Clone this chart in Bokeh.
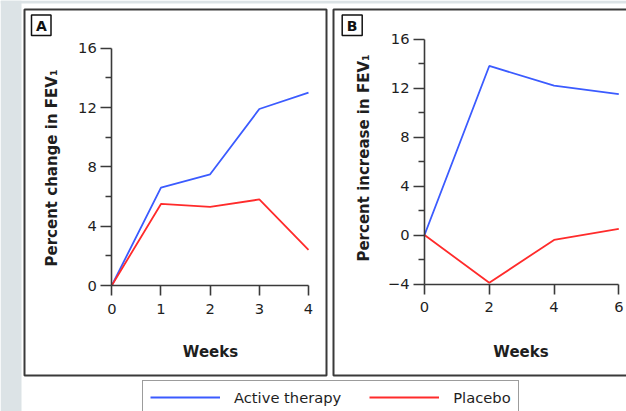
from math import pi
from bokeh.plotting import figure
from bokeh.models import Range1d, LinearAxis, FixedTicker, Legend, LegendItem
from bokeh.core.properties import value
from bokeh.embed import file_html
from bokeh.resources import INLINE

# ---- data ----
weeks_a = [0, 1, 2, 3, 4]
active_a = [0, 6.6, 7.5, 11.9, 13.0]
placebo_a = [0, 5.5, 5.3, 5.8, 2.4]
weeks_b = [0, 2, 4, 6]
active_b = [0, 13.8, 12.2, 11.5]
placebo_b = [0, -3.9, -0.4, 0.5]

xticks_a = [0, 1, 2, 3, 4]
yticks_a = [0, 4, 8, 12, 16]
yminor_a = [2, 6, 10, 14]
xticks_b = [0, 2, 4, 6]
yticks_b = [-4, 0, 4, 8, 12, 16]
yminor_b = [-2, 2, 6, 10, 14]

series_names = ["Active therapy", "Placebo"]
panel_labels = ["A", "B"]
ylabels = ["Percent change in FEV\u2081", "Percent increase in FEV\u2081"]
xlabel = "Weeks"

# ---- styling / layout ----
W, H = 626, 411
BLUE = "#3b5bff"
RED = "#ff2b2b"
DARK = "#3a3a3a"
TXT = "#1e1e1e"
GRAY = "#dce3e6"
FONT = "DejaVu Sans"
FS = "14.7px"


def xrange_for(v0, p0, v1, p1):
    k = (p1 - p0) / (v1 - v0)
    return Range1d(v0 - p0 / k, v0 + (W - p0) / k)


def yrange_for(v0, p0, v1, p1):
    # p measured from top of canvas
    k = (p0 - p1) / (v1 - v0)
    return Range1d(v0 - (H - p0) / k, v0 + p0 / k)


p = figure(width=W, height=H, x_range=Range1d(0, W), y_range=Range1d(H, 0),
           x_axis_type=None, y_axis_type=None, toolbar_location=None,
           output_backend="svg", min_border=0, outline_line_color=None,
           background_fill_color="white", border_fill_color="white")

p.extra_x_ranges = {
    "xa": xrange_for(0, 111.3, 4, 308.0),
    "xb": xrange_for(0, 424.0, 6, 618.3),
}
p.extra_y_ranges = {
    "ya": yrange_for(0, 285.0, 16, 47.7),
    "yb": yrange_for(-4, 283.5, 16, 38.5),
}

# background strips and panel frames
p.quad(left=[0, 0], right=[21, W], top=[0, 0], bottom=[H, 3],
       fill_color=GRAY, line_color=None)
p.quad(left=[24, 333], right=[326, 668], top=[9, 9], bottom=[375, 375],
       fill_color=None, line_color=DARK, line_width=2)
p.quad(left=[31, 341.7], right=[50.5, 361.7], top=[14.5, 14.5], bottom=[35, 35],
       fill_color=None, line_color="#111111", line_width=1.5)
p.text(x=[40.8, 351.7], y=[25, 25], text=panel_labels, text_font=value(FONT),
       text_font_style="bold", text_font_size="14px", text_color="#111111",
       text_align="center", text_baseline="middle")

# axis titles
p.text(x=[51.5, 363], y=[167.5, 157.5], text=ylabels, angle=pi / 2,
       text_font=value(FONT), text_font_style="bold", text_font_size="15px",
       text_color=TXT, text_align="center", text_baseline="alphabetic")
p.text(x=[210, 520.5], y=[351, 351], text=[xlabel, xlabel],
       text_font=value(FONT), text_font_style="bold", text_font_size="15px",
       text_color=TXT, text_align="center", text_baseline="alphabetic")


def style_axis(ax, tick_out, minor_out):
    ax.axis_line_color = DARK
    ax.axis_line_width = 1.6
    ax.major_tick_line_color = DARK
    ax.major_tick_line_width = 1.6
    ax.minor_tick_line_color = DARK
    ax.minor_tick_line_width = 1.6
    ax.major_tick_in = 0
    ax.major_tick_out = tick_out
    ax.minor_tick_in = 0
    ax.minor_tick_out = minor_out
    ax.major_label_text_font = FONT
    ax.major_label_text_font_size = FS
    ax.major_label_text_color = TXT


def add_panel(xr, yr, xt, yt, ym):
    xa = LinearAxis(x_range_name=xr, y_range_name=yr, fixed_location=yt[0],
                    bounds=(xt[0], xt[-1]), ticker=FixedTicker(ticks=xt))
    style_axis(xa, 10, 0)
    xa.major_label_standoff = 8
    p.add_layout(xa, "below")
    ya = LinearAxis(x_range_name=xr, y_range_name=yr, fixed_location=xt[0],
                    bounds=(yt[0], yt[-1]),
                    ticker=FixedTicker(ticks=yt, minor_ticks=ym))
    style_axis(ya, 11, 6)
    ya.major_label_standoff = 4
    p.add_layout(ya, "left")


add_panel("xa", "ya", xticks_a, yticks_a, yminor_a)
add_panel("xb", "yb", xticks_b, yticks_b, yminor_b)

r_act = p.line(weeks_a, active_a, x_range_name="xa", y_range_name="ya",
               line_color=BLUE, line_width=1.8)
r_pla = p.line(weeks_a, placebo_a, x_range_name="xa", y_range_name="ya",
               line_color=RED, line_width=1.8)
p.line(weeks_b, active_b, x_range_name="xb", y_range_name="yb",
       line_color=BLUE, line_width=1.8)
p.line(weeks_b, placebo_b, x_range_name="xb", y_range_name="yb",
       line_color=RED, line_width=1.8)

legend = Legend(items=[LegendItem(label=series_names[0], renderers=[r_act]),
                       LegendItem(label=series_names[1], renderers=[r_pla])],
                location=(142, -3), orientation="horizontal",
                glyph_width=70, glyph_height=18, label_height=18,
                label_standoff=14, spacing=28, padding=7, margin=0,
                border_line_color=DARK, border_line_width=1.5,
                label_text_font=FONT, label_text_font_size=FS,
                label_text_color=TXT, background_fill_color="white",
                background_fill_alpha=1.0)
p.add_layout(legend, "center")

open("out.html", "w").write(file_html(p, INLINE))
